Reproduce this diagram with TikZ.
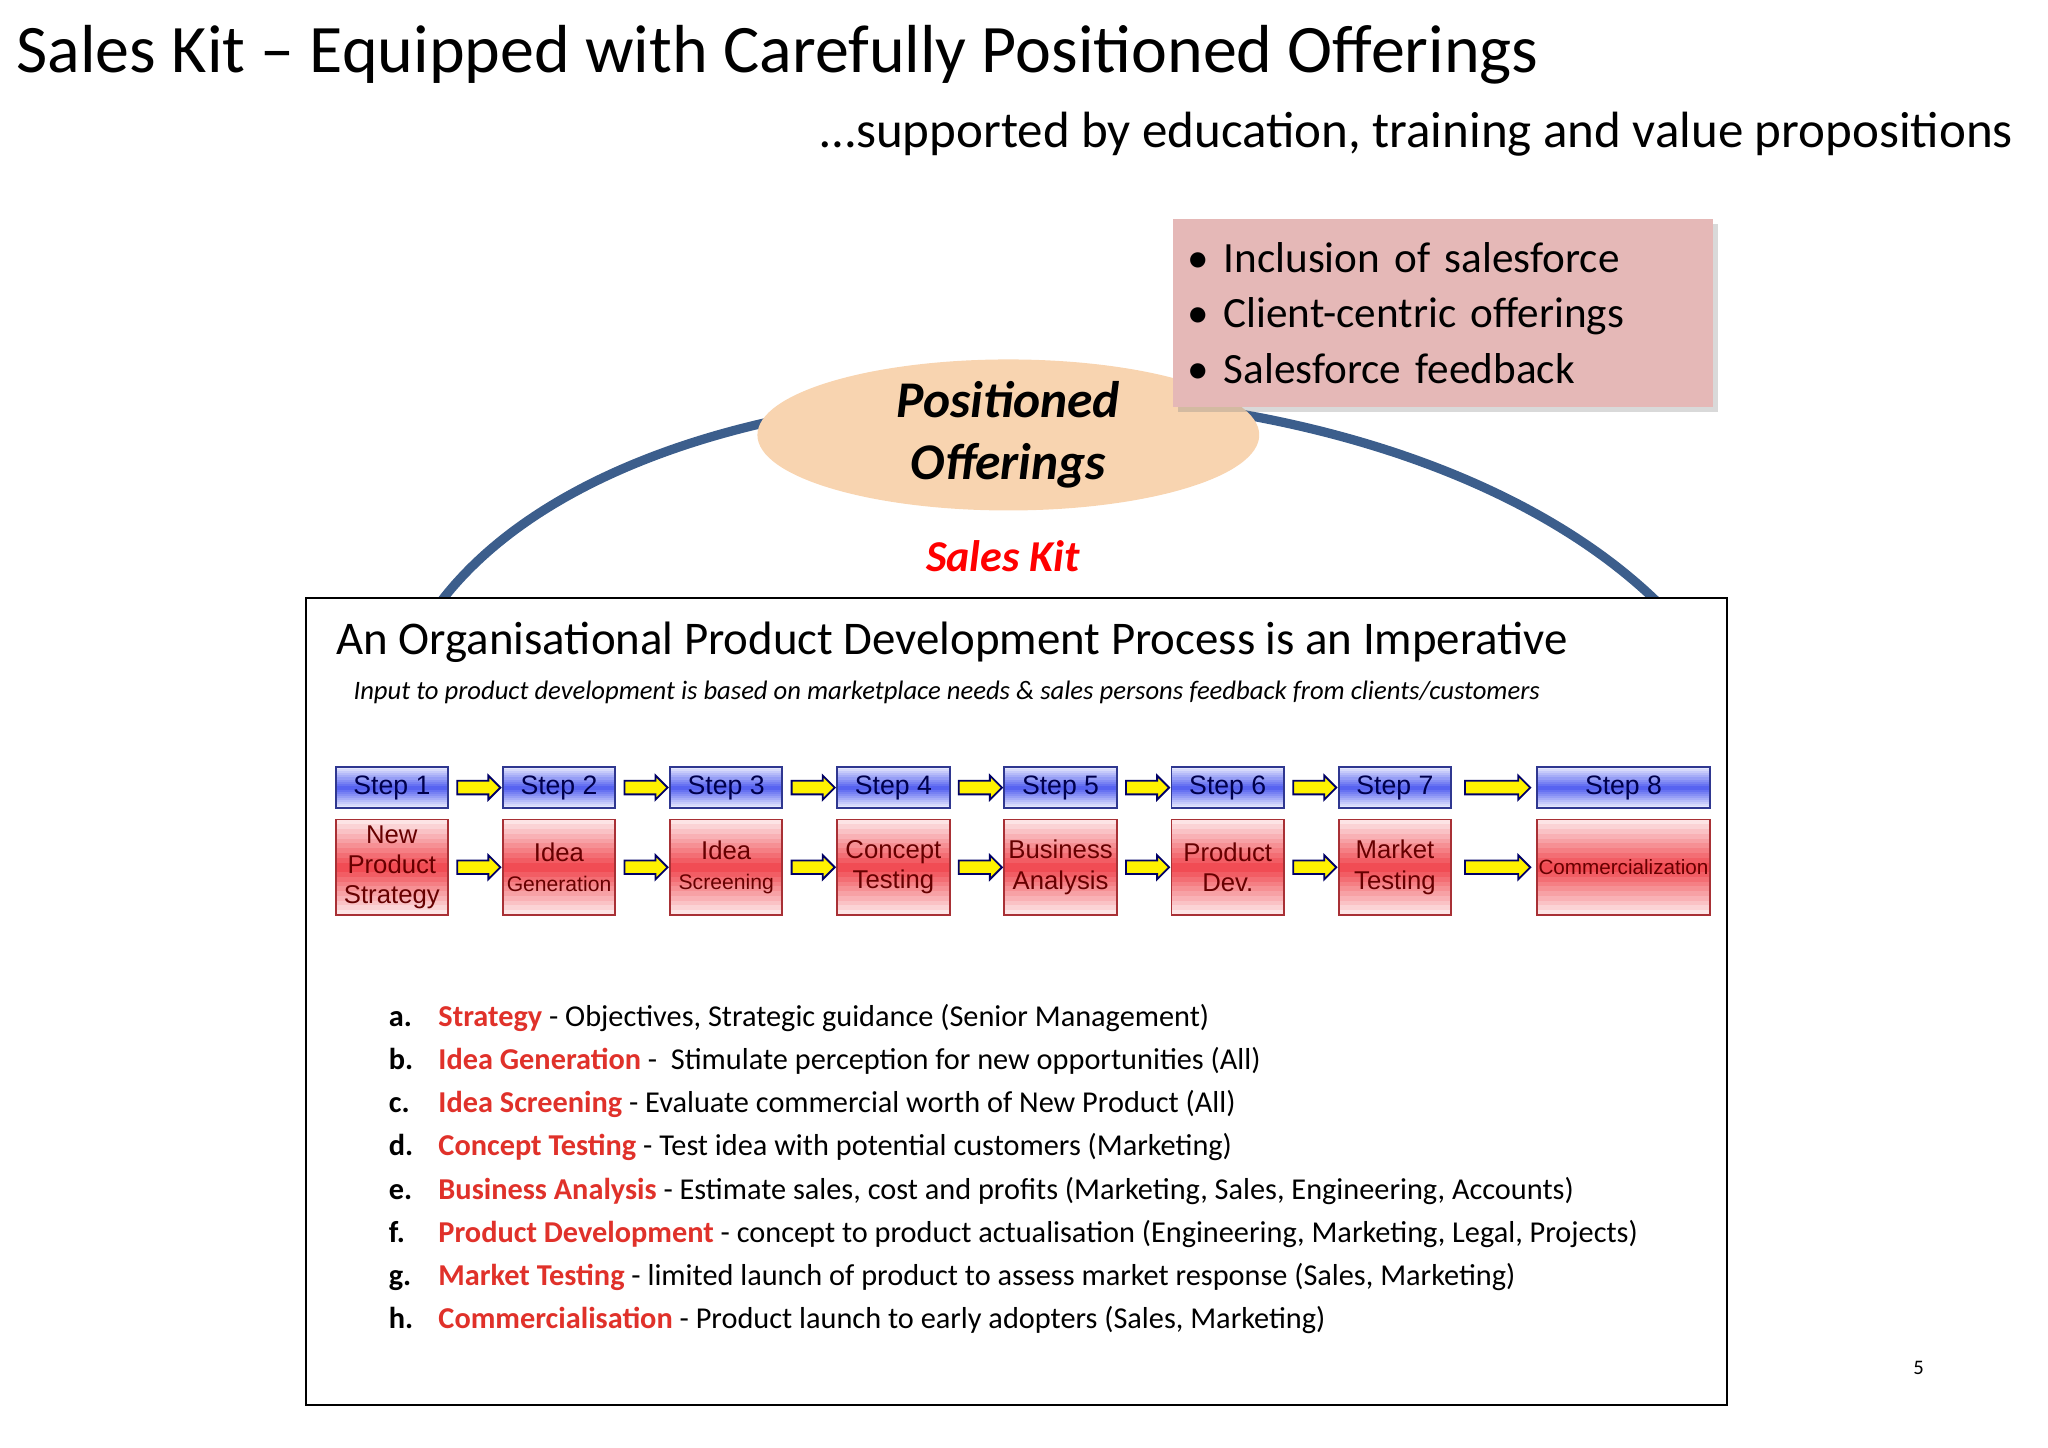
\documentclass[tikz,border=0pt]{standalone}
\usepackage{fontspec}
\setmainfont{Carlito}
\newfontfamily\arialfont{Liberation Sans}
\usetikzlibrary{shapes,arrows,positioning,calc,shadows}
\tikzset{>=latex}
\definecolor{arcBlue}{HTML}{3C5E8C}
\definecolor{peach}{HTML}{F8D4B0}
\definecolor{pinkBox}{HTML}{E5B8B7}
\definecolor{stepBlue}{HTML}{4F5CF0}
\definecolor{stepRed}{HTML}{F0444C}
\definecolor{itemRed}{HTML}{E0312A}
\tikzset{
    bands/.style={path picture={
        \foreach \k in {0,...,19} {
            \pgfmathsetmacro\mix{100-abs(\k-9.5)*9}
            \pgfmathsetmacro\fa{\k/20}
            \pgfmathsetmacro\fb{(\k+1.05)/20}
            \fill[#1!\mix!white]
                ($(path picture bounding box.north west)!\fa!(path picture bounding box.south west)$)
                rectangle
                ($(path picture bounding box.north east)!\fb!(path picture bounding box.south east)$);
        }}},
    stepTop/.style={draw=stepBlue!60!black,minimum width=0.86cm,minimum height=0.31cm,
        bands=stepBlue,inner sep=0pt,text=blue!30!black,
        font=\arialfont\fontsize{5.8}{6}\selectfont},
    stepBot/.style={draw=stepRed!70!black,minimum width=0.86cm,minimum height=0.73cm,
        bands=stepRed,inner sep=0pt,align=center,text=red!40!black,
        font=\arialfont\fontsize{5.6}{6.6}\selectfont},
    stepArrow/.style={single arrow,draw=blue!40!black,fill=yellow,minimum height=0.33cm,
        minimum width=0.18cm,single arrow head extend=0.04cm,inner sep=0.045cm,line width=0.4pt},
    listItem/.style={anchor=base west,inner sep=0pt,font=\fontsize{6.6}{7}\selectfont}
}
\begin{document}
\begin{tikzpicture}[x=0.01cm,y=-0.01cm]
    \useasboundingbox (0,0) rectangle (1568,1108);

    % headings
    \node[anchor=west,inner sep=0pt,font=\fontsize{14.8}{17}\selectfont] (title) at (12,42)
        {Sales Kit -- Equipped with Carefully Positioned Offerings};
    \node[anchor=east,inner sep=0pt,font=\fontsize{11.1}{13}\selectfont] (subtitle) at (1542,103)
        {\dots supported by education, training and value propositions};

    % arc and ellipse
    \coordinate (arcLeft) at (338,460);
    \coordinate (arcRight) at (1268,460);
    \draw[arcBlue,line width=2pt] (arcLeft) .. controls (500,250) and (1050,250) .. (arcRight);
    \node[ellipse,fill=peach,minimum width=3.84cm,minimum height=1.1cm,inner sep=0pt,align=center,
        font=\fontsize{11.2}{13.5}\selectfont\bfseries\itshape] (offerings) at (772,333)
        {Positioned\\Offerings};
    \node[fill=pinkBox,minimum width=4.09cm,minimum height=1.44cm,anchor=north west,
        drop shadow={opacity=0.3,shadow xshift=0.04cm,shadow yshift=-0.04cm},align=left,text width=3.9cm,
        font=\fontsize{9.4}{12}\selectfont] (feedback) at (897,167)
        {\textbullet\ Inclusion of salesforce\\\textbullet\ Client-centric offerings\\\textbullet\ Salesforce feedback};
    \node[text=red,font=\fontsize{9.6}{11}\selectfont\bfseries\itshape] (saleskit) at (768,426) {Sales Kit};

    % main box
    \draw[fill=white] (234,458) rectangle (1322,1076);
    \node[anchor=west,inner sep=0pt,font=\fontsize{10.2}{12}\selectfont] (boxtitle) at (257,492)
        {An Organisational Product Development Process is an Imperative};
    \node[anchor=west,inner sep=0pt,font=\fontsize{5.8}{7}\selectfont\itshape] (boxsub) at (270,530)
        {Input to product development is based on marketplace needs \& sales persons feedback from clients/customers};

    % steps
    \foreach \i/\x/\lbl in {1/300/New\\Product\\Strategy,
            2/428/Idea\\{\fontsize{4.6}{6}\selectfont Generation},
            3/556/Idea\\{\fontsize{4.6}{6}\selectfont Screening},
            4/684/Concept\\Testing,
            5/812/Business\\Analysis,
            6/940/Product\\Dev.,
            7/1068/Market\\Testing} {
        \node[stepTop] (top\i) at (\x,603) {Step \i};
        \node[stepBot] (bot\i) at (\x,664) {\lbl};
    }
    \node[stepTop,minimum width=1.32cm] (top8) at (1243,603) {Step 8};
    \node[stepBot,minimum width=1.32cm,font=\arialfont\fontsize{4.5}{6}\selectfont] (bot8) at (1243,664) {Commercialization};
    \foreach \a/\b in {1/2,2/3,3/4,4/5,5/6,6/7} {
        \node[stepArrow] at ($(top\a.east)!0.5!(top\b.west)$) {};
        \node[stepArrow] at ($(bot\a.east)!0.5!(bot\b.west)$) {};
    }
    \node[stepArrow,minimum height=0.5cm] at ($(top7.east)!0.5!(top8.west)$) {};
    \node[stepArrow,minimum height=0.5cm] at ($(bot7.east)!0.5!(bot8.west)$) {};

    % list
    \foreach \n/\l/\hd/\tx in {0/a./Strategy/ - Objectives{,} Strategic guidance (Senior Management),
            1/b./Idea Generation/ -~~Stimulate perception for new opportunities (All),
            2/c./Idea Screening/ - Evaluate commercial worth of New Product (All),
            3/d./Concept Testing/ - Test idea with potential customers (Marketing),
            4/e./Business Analysis/ - Estimate sales{,} cost and profits (Marketing{,} Sales{,} Engineering{,} Accounts),
            5/f./Product Development/ - concept to product actualisation (Engineering{,} Marketing{,} Legal{,} Projects),
            6/g./Market Testing/ - limited launch of product to assess market response (Sales{,} Marketing),
            7/h./Commercialisation/ - Product launch to early adopters (Sales{,} Marketing)} {
        \node[listItem,font=\fontsize{6.6}{7}\selectfont\bfseries] (letter\n) at (297,786+33*\n) {\l};
        \node[listItem] (item\n) at (335,786+33*\n) {\textcolor{itemRed}{\textbf{\hd}}\tx};
    }

    \node[font=\fontsize{4.5}{5}\selectfont] (pagenum) at (1469,1047) {5};
\end{tikzpicture}
\end{document}
